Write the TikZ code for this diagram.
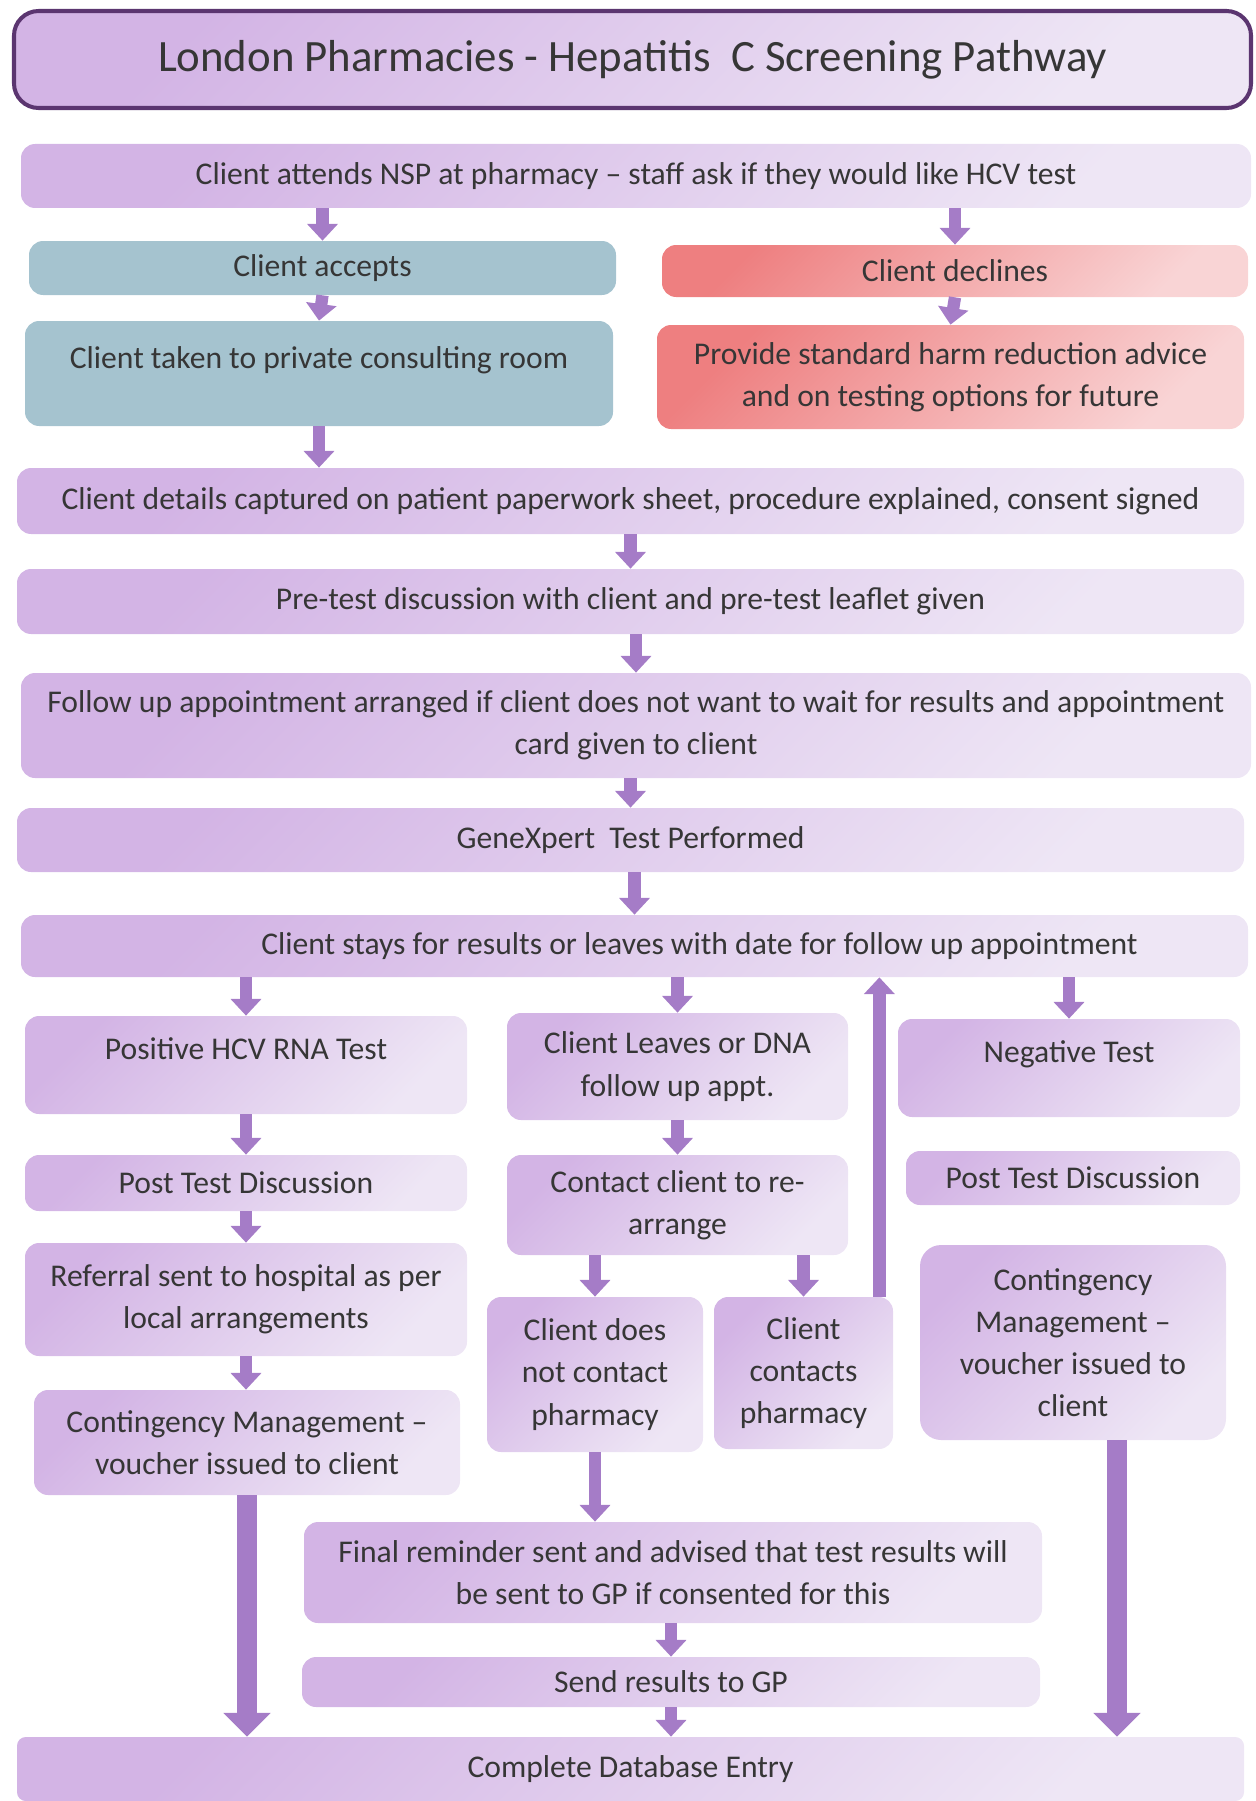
\documentclass[tikz,border=0pt]{standalone}
\usepackage{fontspec}
\setmainfont{Carlito}
\usetikzlibrary{arrows.meta}

\definecolor{lavA}{HTML}{D3B4E5}
\definecolor{lavB}{HTML}{EEE6F5}
\definecolor{tealc}{HTML}{A5C3CF}
\definecolor{roseA}{HTML}{EE7F80}
\definecolor{roseB}{HTML}{F9D4D5}
\definecolor{headb}{HTML}{5B3570}
\definecolor{arrowc}{HTML}{A57CC7}
\definecolor{txt}{HTML}{363636}

\begin{document}
\begin{tikzpicture}[x=0.02cm,y=-0.02cm,
  sz/.style 2 args={minimum width=#1*0.02cm, minimum height=#2*0.02cm},
  pbox/.style={rounded corners=8pt, text=txt, align=center, inner sep=0pt,
    font=\fontsize{18}{24}\selectfont},
  upper/.style={text height=12pt, text depth=18pt},
  lav/.style={pbox, top color=lavA, bottom color=lavB, shading angle=45},
  teal/.style={pbox, fill=tealc},
  rose/.style={pbox, top color=roseA, bottom color=roseB, shading angle=45},
  headbox/.style={lav, draw=headb, line width=2.3pt, rounded corners=14pt,
    font=\fontsize{25.5}{30}\selectfont},
  arr/.style={color=arrowc, line width=7pt, -{Triangle[width=17pt,length=9.5pt]}},
  bigarr/.style={color=arrowc, line width=11pt, -{Triangle[width=26pt,length=13.5pt]}}]
  \useasboundingbox (0,0) rectangle (1256,1801);

  \node[headbox, sz={1237}{97}] (head) at (632.5,59.5) {London Pharmacies - Hepatitis\ \ C Screening Pathway};

  \node[lav, sz={1230}{64}] (attend) at (636,176) {Client attends NSP at pharmacy – staff ask if they would like HCV test};
  \node[teal, sz={587}{54}] (accept) at (322.5,268) {Client accepts};
  \node[rose, sz={586}{52}] (decline) at (955,271) {Client declines};
  \node[teal, upper, sz={588}{105}] (room) at (319,373.5) {Client taken to private consulting room};
  \node[rose, sz={587}{104}] (advice) at (950.5,377) {Provide standard harm reduction advice\\and on testing options for future};
  \node[lav, sz={1227}{66}] (details) at (630.5,501) {Client details captured on patient paperwork sheet, procedure explained, consent signed};
  \node[lav, sz={1227}{65}] (pretest) at (630.5,601.5) {Pre-test discussion with client and pre-test leaflet given};
  \node[lav, sz={1230}{105}] (followup) at (636,725.5) {Follow up appointment arranged if client does not want to wait for results and appointment\\card given to client};
  \node[lav, sz={1227}{64}] (gene) at (630.5,840) {GeneXpert\ \ Test Performed};
  \node[lav, sz={1227}{62}] (stays) at (634.5,946) {\hspace*{2.6cm}Client stays for results or leaves with date for follow up appointment};

  \node[lav, upper, sz={442}{98}] (positive) at (246,1065) {Positive HCV RNA Test};
  \node[lav, sz={341}{107}] (leaves) at (677.5,1066.5) {Client Leaves or DNA\\follow up appt.};
  \node[lav, upper, sz={342}{98}] (negative) at (1069,1068) {Negative Test};
  \node[lav, sz={442}{56}] (postl) at (246,1183) {Post Test Discussion};
  \node[lav, sz={341}{100}] (contact) at (677.5,1205) {Contact client to re-\\arrange};
  \node[lav, sz={334}{54}] (postr) at (1073,1178) {Post Test Discussion};
  \node[lav, sz={442}{113}] (referral) at (246,1299.5) {Referral sent to hospital as per\\local arrangements};
  \node[lav, sz={216}{155}] (nocontact) at (595,1374.5) {Client does\\not contact\\pharmacy};
  \node[lav, sz={179}{152}] (contacts) at (803.5,1373) {Client\\contacts\\pharmacy};
  \node[lav, sz={306}{195}, rounded corners=12pt] (cmright) at (1073,1342.5) {Contingency\\Management –\\voucher issued to\\client};
  \node[lav, sz={426}{105}] (cmleft) at (247,1442.5) {Contingency Management –\\voucher issued to client};
  \node[lav, sz={738}{101}] (final) at (673,1572.5) {Final reminder sent and advised that test results will\\be sent to GP if consented for this};
  \node[lav, sz={738}{50}] (sendgp) at (671,1682) {Send results to GP};
  \node[lav, sz={1227}{64}, rounded corners=5pt] (database) at (630.5,1769) {Complete Database Entry};

  % top half
  \path[arr]
    (attend.south -| accept) edge (accept.north)
    (attend.south -| decline) edge (decline.north)
    (accept.south) edge (room.north)
    (decline.south) edge (advice.north)
    (room.south) edge (room.south |- details.north)
    (details.south -| pretest) edge (pretest.north)
    (pretest.south -| followup) edge (followup.north)
    (followup.south -| gene) edge (gene.north)
    (gene.south -| stays) edge (stays.north);

  % branches
  \path[arr]
    (stays.south -| positive) edge (positive.north)
    (stays.south -| leaves) edge (leaves.north)
    (stays.south -| negative) edge (negative.north)
    (positive.south) edge (postl.north)
    (postl.south) edge (referral.north)
    (referral.south) edge (referral.south |- cmleft.north)
    (leaves.south) edge (contact.north)
    (contact.south -| nocontact) edge (nocontact.north)
    (contact.south -| contacts) edge (contacts.north)
    ([xshift=-0.28cm]contacts.north east) edge ([xshift=-0.28cm]contacts.north east |- stays.south)
    (nocontact.south) edge (nocontact.south |- final.north)
    (final.south -| sendgp) edge (sendgp.north)
    (sendgp.south) edge (sendgp.south |- database.north);

  \path[bigarr]
    (cmleft.south) edge (cmleft.south |- database.north)
    ([xshift=0.88cm]cmright.south) edge ([xshift=0.88cm]cmright.south |- database.north);

\end{tikzpicture}
\end{document}
